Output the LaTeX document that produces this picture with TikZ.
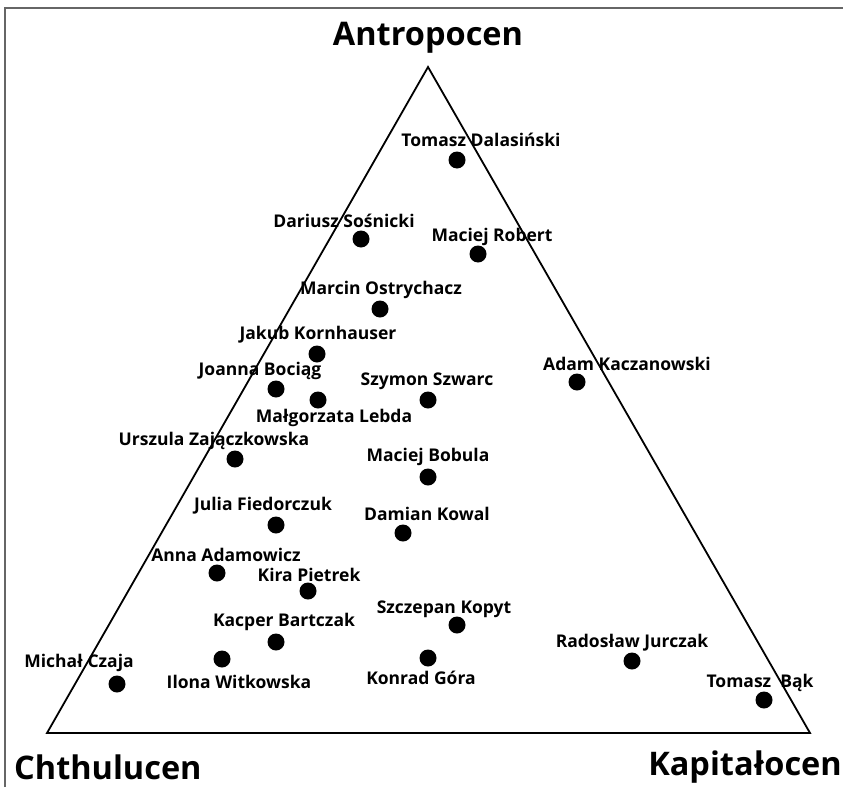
\documentclass[tikz,border=0pt]{standalone}
\usepackage{fontspec}
\setmainfont{Open Sans}
\begin{document}
\begin{tikzpicture}[x=1pt,y=-1pt,
  dot/.style={circle,fill=black,inner sep=0pt,minimum size=17pt},
  lab/.style={font=\fontsize{17.5}{19}\selectfont\bfseries,inner sep=0pt},
  ttl/.style={font=\fontsize{32.5}{36}\selectfont\bfseries,inner sep=0pt}]
\useasboundingbox (0,0) rectangle (843,787);
\fill[white] (0,0) rectangle (843,787);
\coordinate (fbl) at (5,787);
\coordinate (ftl) at (5,8);
\coordinate (ftr) at (843,8);
\draw[gray!80!black,line width=1.2pt] (fbl) -- (ftl) -- (ftr);
\coordinate (A) at (428,67);
\coordinate (C) at (47,733);
\coordinate (K) at (810,733);
\draw[line width=1.8pt,line join=miter] (A) -- (C) -- (K) -- cycle;
\node[ttl] (tA) at (428,38) {Antropocen};
\node[ttl,anchor=west] (tC) at (14,767) {Chthulucen};
\node[ttl,anchor=east] (tK) at (842,767) {Kapitałocen};
% dots and labels
\node[dot] (d1) at (457,160) {}; \node[lab] (l1) at (481,140) {Tomasz Dalasiński};
\node[dot] (d2) at (361,239) {}; \node[lab] (l2) at (344,221) {Dariusz Sośnicki};
\node[dot] (d3) at (478,254) {}; \node[lab] (l3) at (492,237) {Maciej Robert};
\node[dot] (d4) at (380,309) {}; \node[lab] (l4) at (381,290) {Marcin Ostrychacz};
\node[dot] (d5) at (317,354) {}; \node[lab] (l5) at (318,335) {Jakub Kornhauser};
\node[dot] (d6) at (276,389) {}; \node[lab] (l6) at (260,371) {Joanna Bociąg};
\node[dot] (d7) at (318,400) {}; \node[lab] (l7) at (334,418) {Małgorzata Lebda};
\node[dot] (d8) at (428,400) {}; \node[lab] (l8) at (427,381) {Szymon Szwarc};
\node[dot] (d9) at (577,382) {}; \node[lab] (l9) at (627,364) {Adam Kaczanowski};
\node[dot] (d10) at (235,459) {}; \node[lab] (l10) at (214,441) {Urszula Zajączkowska};
\node[dot] (d11) at (428,477) {}; \node[lab] (l11) at (428,457) {Maciej Bobula};
\node[dot] (d12) at (276,525) {}; \node[lab] (l12) at (263,506) {Julia Fiedorczuk};
\node[dot] (d13) at (403,533) {}; \node[lab] (l13) at (427,514) {Damian Kowal};
\node[dot] (d14) at (217,573) {}; \node[lab] (l14) at (226,555) {Anna Adamowicz};
\node[dot] (d15) at (308,591) {}; \node[lab] (l15) at (309,575) {Kira Pietrek};
\node[dot] (d16) at (457,625) {}; \node[lab] (l16) at (444,609) {Szczepan Kopyt};
\node[dot] (d17) at (276,642) {}; \node[lab] (l17) at (284,622) {Kacper Bartczak};
\node[dot] (d18) at (632,661) {}; \node[lab] (l18) at (632,643) {Radosław Jurczak};
\node[dot] (d19) at (117,684) {}; \node[lab] (l19) at (79,663) {Michał Czaja};
\node[dot] (d20) at (222,659) {}; \node[lab] (l20) at (239,682) {Ilona Witkowska};
\node[dot] (d21) at (428,658) {}; \node[lab] (l21) at (421,678) {Konrad Góra};
\node[dot] (d22) at (764,700) {}; \node[lab] (l22) at (760,683) {Tomasz\ \ Bąk};
\end{tikzpicture}
\end{document}
